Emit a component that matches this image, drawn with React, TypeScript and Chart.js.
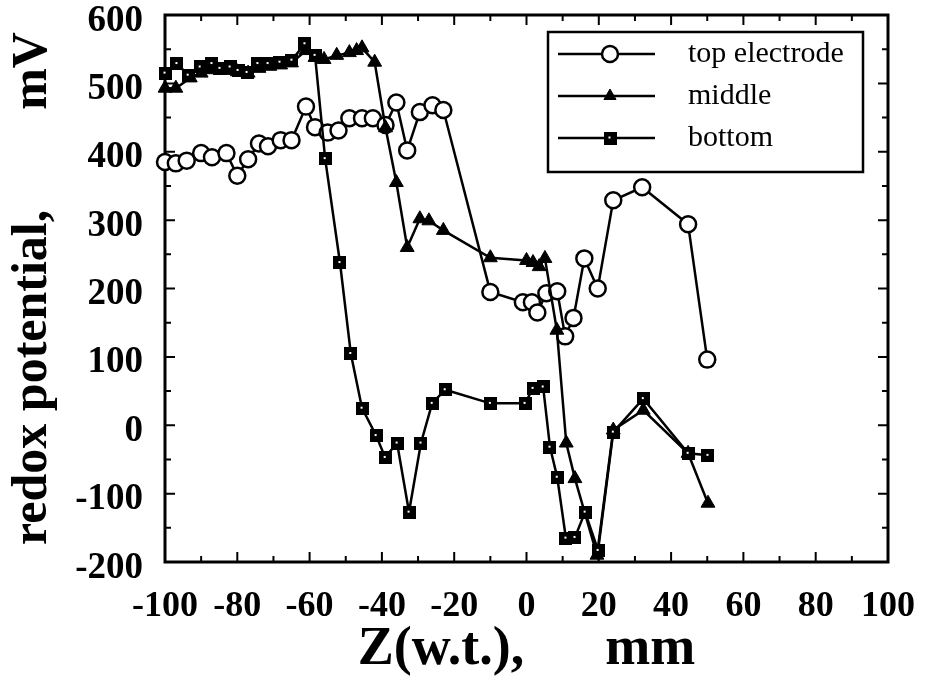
import React, { useEffect, useRef } from 'react';
import { Chart, registerables } from 'chart.js';

Chart.register(...registerables);

// ---- data (Z in mm, redox potential in mV) ----
const topZ = [-100, -97, -94, -90, -87, -83, -80, -77, -74, -71.5, -68, -65, -61, -58.5, -55, -52, -49, -45.5, -42.5, -39, -36, -33, -29.5, -26, -23, -10, -1, 1.5, 3, 5.5, 8.5, 10.7, 13, 16, 19.7, 24, 32, 44.7, 50];
const topMv = [385, 383, 387, 398, 392, 398, 365, 389, 412, 408, 417, 417, 466, 436, 428, 431, 449, 449, 449, 439, 472, 402, 458, 468, 461, 195, 180, 180, 165, 193, 196, 130, 157, 244, 200, 329, 348, 294, 96];

const middleZ = [-100, -97, -93, -90, -87, -83, -80, -77, -74, -71, -68, -65, -61, -58.5, -56, -52.5, -49, -47, -45.5, -42, -39, -36, -33, -29.5, -27, -23, -10, 0, 1.8, 3.5, 5.1, 8.4, 11, 13.4, 19.5, 24, 32.3, 44.7, 50.2];
const middleMv = [493, 493, 508, 515, 520, 519, 517, 515, 522, 525, 527, 530, 548, 538, 535, 541, 545, 548, 552, 531, 435, 355, 260, 302, 299, 285, 245, 241, 238, 232, 244, 139, -26, -78, -190, -7, 22, -41, -114];

const bottomZ = [-100, -96.7, -93.6, -90.3, -87, -84.8, -82, -79.8, -77.3, -74.3, -71.5, -68.2, -64.9, -61.3, -58.5, -55.7, -51.6, -48.6, -45.5, -41.6, -39.1, -35.8, -32.5, -29.2, -26.1, -22.5, -10, -0.4, 1.8, 4.6, 6.5, 8.5, 10.9, 13.4, 16.2, 19.8, 24, 32.3, 44.7, 50.2];
const bottomMv = [515, 529, 512, 524, 529, 522, 524, 519, 516, 529, 529, 531, 534, 558, 541, 390, 238, 105, 25, -15, -47, -26, -127, -26, 32, 52, 32, 32, 54, 56, -32, -76, -165, -164, -127, -183, -10, 39, -41, -44];

const seriesLabels = ['top electrode', 'middle', 'bottom'];
const xTitle = 'Z(w.t.),      mm';
const yTitle = 'redox potential,        mV';
const xRange = [-100, 100];
const yRange = [-200, 600];
const xMajorStep = 20;
const yMajorStep = 100;
const xMinorStep = 10;
const yMinorStep = 50;

const SERIF = "'Liberation Serif', 'Times New Roman', serif";

const zip = (xs: number[], ys: number[]) => xs.map((x, i) => ({ x, y: ys[i] }));

function makeSquare(size: number): HTMLCanvasElement {
  const c = document.createElement('canvas');
  c.width = size;
  c.height = size;
  const g = c.getContext('2d')!;
  g.fillStyle = '#000';
  g.fillRect(0, 0, size, size);
  g.fillStyle = '#fff';
  const d = 2;
  g.fillRect(Math.floor((size - d) / 2), Math.floor((size - d) / 2), d, d);
  return c;
}

const framePlugin = {
  id: 'frameTicks',
  beforeDatasetsDraw(chart: any) {
    const { ctx, chartArea: a, scales } = chart;
    const xs = scales.x;
    const ys = scales.y;
    ctx.save();
    ctx.strokeStyle = '#000';
    ctx.lineWidth = 2;
    ctx.beginPath();
    for (let v = xRange[0]; v <= xRange[1] + 1e-6; v += xMinorStep) {
      const px = xs.getPixelForValue(v);
      const len = Math.abs(Math.round(v) % xMajorStep) === 0 ? 10 : 6;
      ctx.moveTo(px, a.bottom);
      ctx.lineTo(px, a.bottom - len);
      ctx.moveTo(px, a.top);
      ctx.lineTo(px, a.top + len);
    }
    for (let v = yRange[0]; v <= yRange[1] + 1e-6; v += yMinorStep) {
      const py = ys.getPixelForValue(v);
      const len = Math.abs(Math.round(v) % yMajorStep) === 0 ? 10 : 6;
      ctx.moveTo(a.left, py);
      ctx.lineTo(a.left + len, py);
      ctx.moveTo(a.right, py);
      ctx.lineTo(a.right - len, py);
    }
    ctx.stroke();
    ctx.lineWidth = 3;
    ctx.strokeRect(a.left, a.top, a.right - a.left, a.bottom - a.top);
    ctx.restore();
  },
};

const legendPlugin = {
  id: 'insideLegend',
  afterDraw(chart: any) {
    const { ctx, chartArea: a } = chart;
    const boxW = 315;
    const boxH = 140;
    const left = a.right - 340;
    const top = a.top + 17;
    ctx.save();
    ctx.fillStyle = '#fff';
    ctx.fillRect(left, top, boxW, boxH);
    ctx.strokeStyle = '#000';
    ctx.lineWidth = 2.5;
    ctx.strokeRect(left, top, boxW, boxH);
    const datasets = chart.data.datasets;
    datasets.forEach((ds: any, i: number) => {
      const cy = top + 22 + i * 42;
      const x0 = left + 10;
      const x1 = left + 107;
      const mx = left + 62;
      ctx.strokeStyle = '#000';
      ctx.lineWidth = 2.5;
      ctx.beginPath();
      ctx.moveTo(x0, cy);
      ctx.lineTo(x1, cy);
      ctx.stroke();
      const style = ds.pointStyle;
      if (style === 'circle') {
        ctx.beginPath();
        ctx.arc(mx, cy, 8, 0, Math.PI * 2);
        ctx.fillStyle = '#fff';
        ctx.fill();
        ctx.lineWidth = 2.5;
        ctx.stroke();
      } else if (style === 'triangle') {
        const r = 7;
        ctx.beginPath();
        for (let k = 0; k < 3; k++) {
          const ang = (k * 2 * Math.PI) / 3;
          const px = mx + Math.sin(ang) * r;
          const py = cy - Math.cos(ang) * r;
          if (k === 0) ctx.moveTo(px, py);
          else ctx.lineTo(px, py);
        }
        ctx.closePath();
        ctx.fillStyle = '#000';
        ctx.fill();
        ctx.lineWidth = 1;
        ctx.stroke();
      } else if (style instanceof HTMLCanvasElement) {
        ctx.drawImage(style, mx - style.width / 2, cy - style.height / 2);
      }
      ctx.fillStyle = '#000';
      ctx.font = `30px ${SERIF}`;
      ctx.textAlign = 'left';
      ctx.textBaseline = 'middle';
      ctx.fillText(ds.label, left + 140, cy);
    });
    ctx.restore();
  },
};

export default function App() {
  const ref = useRef<HTMLCanvasElement | null>(null);

  useEffect(() => {
    if (!ref.current) return;
    const square = makeSquare(13);
    const chart = new Chart(ref.current, {
      type: 'scatter',
      data: {
        datasets: [
          {
            label: seriesLabels[0],
            data: zip(topZ, topMv),
            showLine: true,
            borderColor: '#000',
            borderWidth: 2.5,
            pointStyle: 'circle',
            pointRadius: 8,
            pointBackgroundColor: '#fff',
            pointBorderColor: '#000',
            pointBorderWidth: 2.5,
            order: 3,
            clip: false,
          } as any,
          {
            label: seriesLabels[1],
            data: zip(middleZ, middleMv),
            showLine: true,
            borderColor: '#000',
            borderWidth: 2.5,
            pointStyle: 'triangle',
            pointRadius: 8,
            pointBackgroundColor: '#000',
            pointBorderColor: '#000',
            pointBorderWidth: 1,
            order: 2,
            clip: false,
          } as any,
          {
            label: seriesLabels[2],
            data: zip(bottomZ, bottomMv),
            showLine: true,
            borderColor: '#000',
            borderWidth: 2.5,
            pointStyle: square,
            pointRadius: 7,
            order: 1,
            clip: false,
          } as any,
        ],
      },
      options: {
        responsive: false,
        animation: false,
        events: [],
        layout: { padding: { top: 15, right: 37, left: 0, bottom: 0 } },
        plugins: {
          legend: { display: false },
          tooltip: { enabled: false },
        },
        scales: {
          x: {
            type: 'linear',
            min: xRange[0],
            max: xRange[1],
            grid: { display: false },
            border: { display: false },
            ticks: {
              stepSize: xMajorStep,
              autoSkip: false,
              maxRotation: 0,
              padding: 19,
              color: '#000',
              font: { family: SERIF, weight: 'bold', size: 36, lineHeight: 1 },
            },
            title: {
              display: true,
              text: xTitle,
              color: '#000',
              font: { family: SERIF, weight: 'bold', size: 54, lineHeight: 1 },
              padding: { top: 0, bottom: 2 },
            },
            afterFit: (s: any) => {
              s.height = 117;
              s.paddingLeft = 0;
              s.paddingRight = 0;
            },
          },
          y: {
            type: 'linear',
            min: yRange[0],
            max: yRange[1],
            grid: { display: false },
            border: { display: false },
            ticks: {
              stepSize: yMajorStep,
              autoSkip: false,
              padding: 14,
              labelOffset: 6,
              color: '#000',
              font: { family: SERIF, weight: 'bold', size: 37, lineHeight: 0.8 },
            },
            title: {
              display: true,
              text: yTitle,
              color: '#000',
              font: { family: SERIF, weight: 'bold', size: 50, lineHeight: 1.2 },
              padding: { top: 3, bottom: 0 },
            },
            afterFit: (s: any) => {
              s.width = 165;
              s.paddingTop = 0;
              s.paddingBottom = 0;
            },
          },
        },
      } as any,
      plugins: [framePlugin, legendPlugin],
    });
    return () => chart.destroy();
  }, []);

  return (
    <div style={{ position: 'fixed', left: 0, top: 0, width: 925, height: 679, background: '#fff' }}>
      <canvas ref={ref} width={925} height={679} style={{ display: 'block' }} />
    </div>
  );
}
